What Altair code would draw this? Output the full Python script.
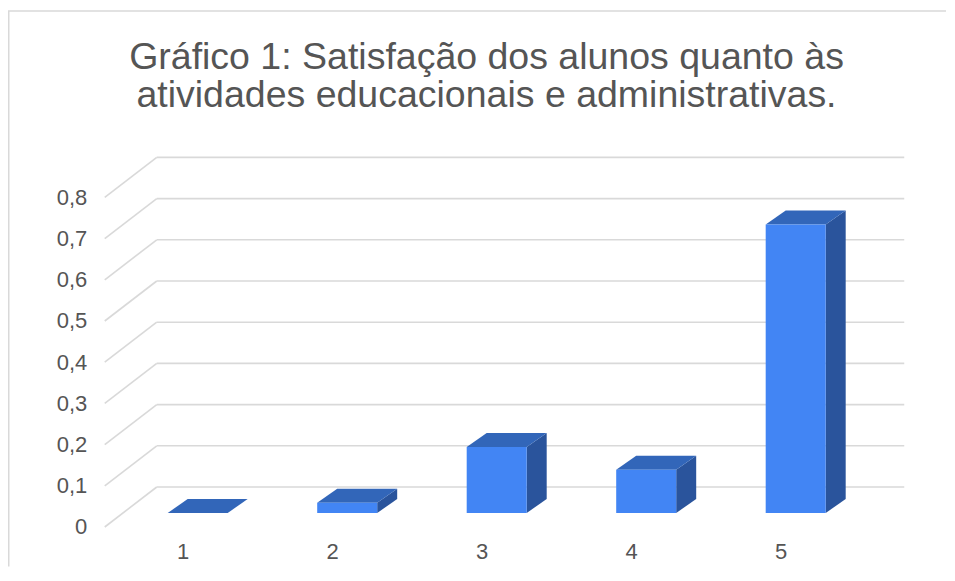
import altair as alt
import pandas as pd

# ---------------- data ----------------
categories = [1, 2, 3, 4, 5]
values = [0.0, 0.025, 0.16, 0.105, 0.70]
y_ticks = [0, 0.1, 0.2, 0.3, 0.4, 0.5, 0.6, 0.7, 0.8]
title_lines = [
    "Gráfico 1: Satisfação dos alunos quanto às",
    "atividades educacionais e administrativas.",
]

# ---------------- geometry / style ----------------
PX_X = 149.5          # px per category unit
PX_Y = 412.0          # px per value unit
X_DOM = [0.3, 5.8]
Y_DOM = [-0.05, 0.9]
W = (X_DOM[1] - X_DOM[0]) * PX_X
H = (Y_DOM[1] - Y_DOM[0]) * PX_Y
LEFT_PX = 93.05       # page x of plot-area left
TOP_PX = 142.2        # page y of plot-area top
PAD = {"left": LEFT_PX - 8, "top": TOP_PX - 8, "right": 31, "bottom": 33}

BAR_W = 60 / PX_X
BAR_DX = 20 / PX_X
BAR_DY = 14 / PX_Y
FRONT_DX, FRONT_DY = -18.2 / PX_X, -14 / PX_Y
BACK_DX, BACK_DY = 33.8 / PX_X, 26 / PX_Y
WALL = [0.5, 5.5]

FRONT_C = "#4285f4"
TOP_C = "#3266b9"
SIDE_C = "#2a549c"
GRID_C = "#d9d9d9"
TEXT_C = "#555555"
FONT = "Liberation Sans"

xs = alt.Scale(domain=X_DOM, nice=False, zero=False)
ys = alt.Scale(domain=Y_DOM, nice=False, zero=False)
x_axis = alt.Axis(values=categories, format="d", title=None, grid=False, domain=False,
                  ticks=False, tickSize=0, labelOffset=-15, labelPadding=8,
                  labelFont=FONT, labelFontSize=22, labelColor=TEXT_C)
y_axis = alt.Axis(values=y_ticks, title=None, grid=False, domain=False, ticks=False,
                  tickSize=0, labelOffset=14, labelPadding=6.3, format=".1~f",
                  labelExpr="replace(datum.label, '.', ',')",
                  labelFont=FONT, labelFontSize=22, labelColor=TEXT_C)

# ---------------- tables ----------------
grid_rows = []
for t in y_ticks:
    grid_rows.append({"x": WALL[0] + FRONT_DX, "x2": WALL[0] + BACK_DX,
                      "y": t + FRONT_DY, "y2": t + BACK_DY})
    grid_rows.append({"x": WALL[0] + BACK_DX, "x2": WALL[1] + BACK_DX,
                      "y": t + BACK_DY, "y2": t + BACK_DY})
grid_df = pd.DataFrame(grid_rows)

front_df = pd.DataFrame({
    "bar": categories,
    "x0": [c - BAR_W / 2 for c in categories],
    "x1": [c + BAR_W / 2 for c in categories],
    "base": [0.0] * len(categories),
    "v": values,
})

top_rows, side_rows = [], []
for c, v in zip(categories, values):
    l, r = c - BAR_W / 2, c + BAR_W / 2
    top_rows += [
        {"bar": c, "xp": l, "lo": v, "hi": v},
        {"bar": c, "xp": l + BAR_DX, "lo": v, "hi": v + BAR_DY},
        {"bar": c, "xp": r, "lo": v, "hi": v + BAR_DY},
        {"bar": c, "xp": r + BAR_DX, "lo": v + BAR_DY, "hi": v + BAR_DY},
    ]
    side_rows += [
        {"bar": c, "xp": r, "lo": 0.0, "hi": v},
        {"bar": c, "xp": r + BAR_DX, "lo": BAR_DY, "hi": v + BAR_DY},
    ]
top_df = pd.DataFrame(top_rows)
side_df = pd.DataFrame(side_rows)

# ---------------- layers ----------------
grid = alt.Chart(grid_df).mark_rule(color=GRID_C, strokeWidth=1.6).encode(
    x=alt.X("x:Q", scale=xs, axis=x_axis), x2="x2:Q",
    y=alt.Y("y:Q", scale=ys, axis=y_axis), y2="y2:Q",
)

side = alt.Chart(side_df).mark_area(color=SIDE_C, interpolate="linear").encode(
    x=alt.X("xp:Q", scale=xs, axis=x_axis),
    y=alt.Y("lo:Q", scale=ys, axis=y_axis), y2="hi:Q",
    detail="bar:N",
)
top = alt.Chart(top_df).mark_area(color=TOP_C, interpolate="linear").encode(
    x=alt.X("xp:Q", scale=xs, axis=x_axis),
    y=alt.Y("lo:Q", scale=ys, axis=y_axis), y2="hi:Q",
    detail="bar:N",
)
front = alt.Chart(front_df).mark_rect(color=FRONT_C).encode(
    x=alt.X("x0:Q", scale=xs, axis=x_axis), x2="x1:Q",
    y=alt.Y("base:Q", scale=ys, axis=y_axis), y2="v:Q",
)

one = pd.DataFrame({"k": [0]})
title = alt.Chart(one).mark_text(
    font=FONT, fontSize=37.5, color=TEXT_C, align="center", baseline="alphabetic",
    lineHeight=38,
).encode(
    x=alt.value(486.5 - LEFT_PX), y=alt.value(69.5 - TOP_PX),
    text=alt.value(title_lines),
)

border_v = alt.Chart(one).mark_rule(color="#d9d9d9", strokeWidth=1.5).encode(
    x=alt.value(8.75 - LEFT_PX), y=alt.value(11 - TOP_PX), y2=alt.value(H + PAD["bottom"]),
)
border_h = alt.Chart(one).mark_rule(color="#d9d9d9", strokeWidth=1.5).encode(
    x=alt.value(8 - LEFT_PX), x2=alt.value(W + PAD["right"]), y=alt.value(11 - TOP_PX),
)

chart = alt.layer(grid, side, top, front, title, border_v, border_h).properties(
    width=W, height=H, padding=PAD, autosize=alt.AutoSizeParams(type="none"),
).configure_view(strokeWidth=0)

chart.save("out.html", embed_options={"renderer": "svg", "actions": False})
